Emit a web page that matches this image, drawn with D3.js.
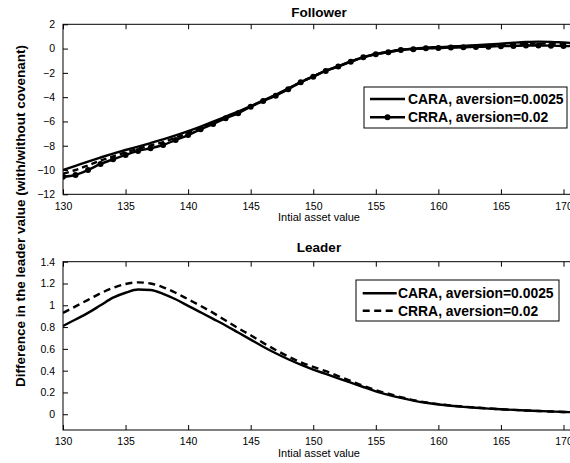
<!DOCTYPE html>
<html>
<head>
<meta charset="utf-8">
<script src="https://cdn.jsdelivr.net/npm/d3@7"></script>
<style>
  html, body { margin: 0; padding: 0; background: #fff; overflow: hidden; }
  svg { display: block; font-family: "Liberation Sans", Arial, Helvetica, sans-serif; }
</style>
</head>
<body>
<svg id="chart" width="570" height="463"></svg>
<script>
// Initial asset values (x) shared by all curves
const assetValues = d3.range(130, 172, 1);

// Follower panel: difference in value with/without covenant
const followerCARA = [
  -10.00, -9.65, -9.30, -8.97, -8.65, -8.35, -8.07, -7.78, -7.48, -7.15,
  -6.80, -6.42, -6.02, -5.60, -5.18, -4.74, -4.27, -3.80, -3.28, -2.76,
  -2.28, -1.82, -1.44, -1.06, -0.71, -0.44, -0.26, -0.10, 0.00, 0.07,
  0.12, 0.17, 0.22, 0.28, 0.34, 0.41, 0.48, 0.54, 0.57, 0.55,
  0.50, 0.45
];
const followerMid = [
  -10.30, -10.00, -9.62, -9.22, -8.88, -8.55, -8.25, -7.98, -7.70, -7.34,
  -6.96, -6.53, -6.11, -5.67, -5.25, -4.77, -4.30, -3.84, -3.31, -2.77,
  -2.30, -1.83, -1.46, -1.07, -0.72, -0.46, -0.29, -0.12, -0.03, 0.04,
  0.08, 0.12, 0.16, 0.21, 0.25, 0.30, 0.35, 0.39, 0.41, 0.40,
  0.36, 0.32
];
const followerCRRA = [
  -10.55, -10.41, -10.00, -9.50, -9.12, -8.76, -8.43, -8.21, -7.94, -7.53,
  -7.12, -6.65, -6.21, -5.74, -5.33, -4.78, -4.32, -3.88, -3.35, -2.78,
  -2.31, -1.84, -1.48, -1.08, -0.72, -0.47, -0.31, -0.12, -0.05, 0.02,
  0.04, 0.08, 0.10, 0.14, 0.16, 0.20, 0.22, 0.25, 0.25, 0.24,
  0.21, 0.19
];

// Leader panel
const leaderCARA = [
  0.81, 0.87, 0.93, 1.00, 1.07, 1.115, 1.145, 1.14, 1.105, 1.055,
  0.995, 0.935, 0.875, 0.815, 0.75, 0.685, 0.62, 0.56, 0.505, 0.455,
  0.41, 0.37, 0.33, 0.29, 0.25, 0.21, 0.178, 0.15, 0.125, 0.105,
  0.09, 0.078, 0.068, 0.06, 0.052, 0.046, 0.04, 0.035, 0.03, 0.025,
  0.021, 0.018
];
const leaderCRRA = [
  0.93, 0.99, 1.05, 1.11, 1.16, 1.195, 1.21, 1.20, 1.165, 1.115,
  1.055, 0.995, 0.93, 0.86, 0.79, 0.725, 0.655, 0.59, 0.53, 0.478,
  0.435, 0.395, 0.35, 0.305, 0.262, 0.222, 0.188, 0.157, 0.13, 0.109,
  0.093, 0.08, 0.07, 0.061, 0.053, 0.046, 0.04, 0.035, 0.03, 0.025,
  0.021, 0.018
];

const xTicks = [130, 135, 140, 145, 150, 155, 160, 165, 170];
const followerYTicks = [-12, -10, -8, -6, -4, -2, 0, 2];
const leaderYTicks = [0, 0.2, 0.4, 0.6, 0.8, 1, 1.2, 1.4];
const legendLabels = ["CARA, aversion=0.0025", "CRRA, aversion=0.02"];

const svg = d3.select("#chart");
const fmt = v => (v < 0 ? "\u2212" + Math.abs(v) : String(v));

function panel(cfg) {
  const x = d3.scaleLinear().domain([130, 171]).range([63, 576]);
  const y = d3.scaleLinear().domain(cfg.yDomain).range([cfg.bottom, cfg.top]);
  const g = svg.append("g");
  const clipId = "clip-" + cfg.id;
  g.append("clipPath").attr("id", clipId)
    .append("rect").attr("x", 63).attr("y", cfg.top)
    .attr("width", 513).attr("height", cfg.bottom - cfg.top);

  // axes with inward ticks, mirrored on the top edge
  const bottomAxis = d3.axisBottom(x).tickValues(xTicks).tickSize(-5).tickPadding(8).tickFormat(fmt);
  const topAxis = d3.axisTop(x).tickValues(xTicks).tickSize(-5).tickFormat("");
  const leftAxis = d3.axisLeft(y).tickValues(cfg.yTicks).tickSize(-5).tickPadding(8).tickFormat(fmt);

  const ga = g.append("g").attr("transform", `translate(0,${cfg.bottom})`).call(bottomAxis);
  const gt = g.append("g").attr("transform", `translate(0,${cfg.top})`).call(topAxis);
  const gl = g.append("g").attr("transform", `translate(63,0)`).call(leftAxis);
  [ga, gt, gl].forEach(a => {
    a.select(".domain").remove();
    a.selectAll("line").attr("stroke", "#000").attr("stroke-width", 1);
    a.selectAll("text").attr("font-size", 10.5).attr("fill", "#000")
      .attr("font-family", "Liberation Sans, Arial, sans-serif");
  });
  ga.selectAll("text").attr("dy", "0.71em");

  // frame
  g.append("rect").attr("x", 63).attr("y", cfg.top)
    .attr("width", 513).attr("height", cfg.bottom - cfg.top)
    .attr("fill", "none").attr("stroke", "#000").attr("stroke-width", 1);

  const line = d3.line().x((d, i) => x(assetValues[i])).y(d => y(d)).curve(d3.curveMonotoneX);
  const plot = g.append("g").attr("clip-path", `url(#${clipId})`);
  cfg.series.forEach(s => {
    plot.append("path").datum(s.values).attr("d", line)
      .attr("fill", "none").attr("stroke", "#000").attr("stroke-width", s.width || 2.4)
      .attr("stroke-dasharray", s.dash || null);
    if (s.markers) {
      plot.selectAll(null).data(s.values).enter().append("circle")
        .attr("cx", (d, i) => x(assetValues[i])).attr("cy", d => y(d))
        .attr("r", 3).attr("fill", "#000");
    }
  });

  // title and x label
  g.append("text").attr("x", 319).attr("y", cfg.titleY).attr("text-anchor", "middle")
    .attr("font-size", 13.5).attr("font-weight", "bold").text(cfg.title);
  g.append("text").attr("x", 319).attr("y", cfg.xLabelY).attr("text-anchor", "middle")
    .attr("font-size", 11).text("Intial asset value");

  // legend
  const L = cfg.legend;
  const lg = g.append("g");
  lg.append("rect").attr("x", L.x).attr("y", L.y).attr("width", L.w).attr("height", L.h)
    .attr("fill", "#fff").attr("stroke", "#000").attr("stroke-width", 1);
  cfg.series.filter(s => s.legend != null).forEach(s => {
    const ry = L.rows[s.legend];
    lg.append("line").attr("x1", L.sx1).attr("x2", L.sx2).attr("y1", ry).attr("y2", ry)
      .attr("stroke", "#000").attr("stroke-width", 2.4).attr("stroke-dasharray", s.dash || null);
    if (s.markers) {
      lg.append("circle").attr("cx", (L.sx1 + L.sx2) / 2).attr("cy", ry).attr("r", 3).attr("fill", "#000");
    }
    lg.append("text").attr("x", L.tx).attr("y", ry).attr("dy", "0.36em")
      .attr("font-size", 13.9).attr("font-weight", "bold").text(legendLabels[s.legend]);
  });
}

panel({
  id: "follower", top: 24.3, bottom: 194.3, yDomain: [-12, 2], yTicks: followerYTicks,
  title: "Follower", titleY: 16.5, xLabelY: 221,
  series: [
    { values: followerCARA, legend: 0 },
    { values: followerMid, dash: "6,4" },
    { values: followerCRRA, legend: 1, markers: true }
  ],
  legend: { x: 364, y: 87, w: 203, h: 41, rows: [99, 117.3], sx1: 370, sx2: 405, tx: 408 }
});

panel({
  id: "leader", top: 261.7, bottom: 430, yDomain: [-0.1446, 1.4], yTicks: leaderYTicks,
  title: "Leader", titleY: 251.5, xLabelY: 456.5,
  series: [
    { values: leaderCARA, legend: 0 },
    { values: leaderCRRA, legend: 1, dash: "7,4.5" }
  ],
  legend: { x: 356, y: 280, w: 203, h: 41, rows: [293.3, 310.7], sx1: 362.7, sx2: 396.7, tx: 398 }
});

// shared y-axis label
svg.append("text").attr("transform", "translate(25,216) rotate(-90)")
  .attr("text-anchor", "middle").attr("font-size", 13.5).attr("font-weight", "bold")
  .text("Difference in the leader value (with/without covenant)");
</script>
</body>
</html>
